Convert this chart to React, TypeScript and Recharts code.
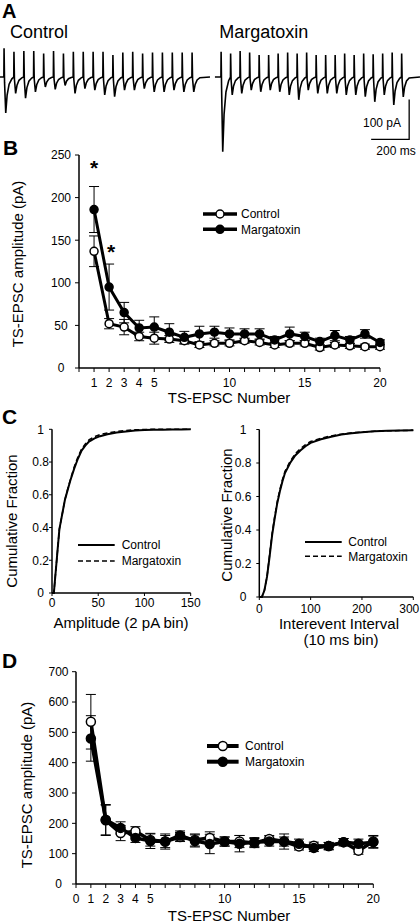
import React from 'react';
import { LineChart, Line, XAxis, YAxis, ErrorBar, Legend } from 'recharts';

const FONT = '"Liberation Sans", Arial, Helvetica, sans-serif';

// ---------- Panel A: example traces (pA relative to baseline, time in ms) ----------
const CTRL_STIM_MS = [20, 70, 120, 170, 220, 270, 320, 370, 420, 470, 520, 570, 620, 670, 720, 770, 820, 870, 920, 970];
const CTRL_ARTIFACT_PA = [72, 63, 65, 65, 59, 65, 59, 63, 63, 63, 63, 55, 61, 63, 59, 61, 61, 61, 61, 61];
const CTRL_TROUGH_PA = [-90, -41, -53, -37, -25, -31, -21, -41, -29, -33, -45, -49, -33, -33, -29, -37, -37, -33, -37, -37];
const MARG_STIM_MS = [58, 108, 158, 208, 258, 308, 358, 408, 458, 508, 558, 608, 658, 708, 758, 808, 858, 908, 958, 1008];
const MARG_ARTIFACT_PA = [63, 59, 65, 61, 55, 55, 59, 61, 59, 61, 55, 55, 55, 59, 55, 59, 57, 59, 61, 59];
const MARG_TROUGH_PA = [-187, -45, -41, -33, -37, -33, -37, -45, -57, -33, -41, -41, -41, -45, -45, -49, -62, -45, -70, -50];
// EPSC waveform shape (ms after stimulus, fraction of trough)
const EPSC_SHAPE_MS = [3, 9, 16, 26, 40];
const EPSC_SHAPE_FRAC = [0.15, 1, 0.5, 0.2, 0.05];
const SCALE_BAR_MS = [848, 1048, 1048];
const SCALE_BAR_PA = [-156, -156, -56];

// ---------- Panel B ----------
const B_NUM = [1, 2, 3, 4, 5, 6, 7, 8, 9, 10, 11, 12, 13, 14, 15, 16, 17, 18, 19, 20];
const B_CTRL = [137, 52, 48, 37, 35, 34, 32, 27, 29, 29, 32, 30, 27, 29, 29, 24, 27, 26, 25, 25];
const B_CTRL_SEM = [18, 6, 9, 5, 7, 4, 4, 3, 3, 3, 3, 3, 3, 3, 3, 3, 3, 3, 3, 3];
const B_MARG = [186, 95, 65, 47, 48, 42, 36, 40, 42, 40, 40, 40, 33, 40, 37, 31, 38, 33, 40, 30];
const B_MARG_SEM = [27, 27, 12, 9, 12, 10, 7, 9, 7, 7, 6, 6, 4, 8, 5, 4, 6, 4, 5, 3];
const B_X_TICKS = [0, 1, 2, 3, 4, 5, 6, 7, 8, 9, 10, 11, 12, 13, 14, 15, 16, 17, 18, 19, 20];
const B_X_LABELS = [1, 2, 3, 4, 5, 10, 15, 20];
const B_Y_TICKS = [0, 50, 100, 150, 200, 250];

// ---------- Panel C ----------
const AMP_PA = [0, 2, 4, 6, 8, 10, 12, 14, 16, 18, 20, 24, 28, 32, 36, 40, 46, 52, 60, 70, 80, 90, 100, 110, 120, 130, 140, 150];
const AMP_CTRL = [0, 0, 0.13, 0.26, 0.39, 0.45, 0.51, 0.57, 0.61, 0.65, 0.69, 0.76, 0.82, 0.87, 0.9, 0.925, 0.945, 0.958, 0.97, 0.98, 0.987, 0.992, 0.995, 0.997, 0.998, 0.999, 0.999, 1];
const AMP_MARG = [0, 0, 0.13, 0.26, 0.39, 0.45, 0.51, 0.57, 0.615, 0.655, 0.695, 0.77, 0.83, 0.88, 0.91, 0.935, 0.955, 0.968, 0.978, 0.987, 0.993, 0.997, 0.999, 1, 1, 1, 1, 1];
const IEI_MS = [0, 5, 10, 15, 20, 25, 30, 35, 40, 45, 50, 60, 70, 80, 90, 100, 120, 140, 160, 180, 200, 225, 250, 275, 300];
const IEI_CTRL = [0, 0, 0.04, 0.12, 0.24, 0.37, 0.47, 0.56, 0.63, 0.69, 0.74, 0.8, 0.845, 0.875, 0.9, 0.92, 0.942, 0.957, 0.97, 0.978, 0.984, 0.989, 0.992, 0.994, 0.995];
const IEI_MARG = [0, 0, 0.04, 0.12, 0.25, 0.38, 0.48, 0.57, 0.64, 0.7, 0.75, 0.81, 0.855, 0.885, 0.91, 0.928, 0.948, 0.962, 0.972, 0.98, 0.985, 0.99, 0.992, 0.994, 0.995];
const C_Y_TICKS = [0, 0.2, 0.4, 0.6, 0.8, 1];
const AMP_TICKS = [0, 50, 100, 150];
const IEI_TICKS = [0, 100, 200, 300];

// ---------- Panel D ----------
const D_CTRL = [535, 210, 168, 174, 145, 140, 155, 145, 152, 140, 140, 135, 148, 140, 124, 126, 125, 138, 110, 140];
const D_CTRL_SEM = [90, 50, 25, 15, 20, 20, 15, 20, 20, 15, 20, 15, 12, 15, 12, 12, 12, 12, 12, 20];
const D_MARG = [480, 212, 185, 152, 142, 140, 160, 142, 132, 140, 133, 138, 140, 140, 133, 119, 125, 138, 133, 138];
const D_MARG_SEM = [75, 50, 20, 15, 25, 25, 15, 20, 32, 15, 27, 15, 15, 25, 15, 12, 12, 12, 15, 20];
const D_X_LABELS = [0, 1, 2, 3, 4, 5, 10, 15, 20];
const D_Y_TICKS = [0, 100, 200, 300, 400, 500, 600, 700];

function buildTrace(stims: number[], tops: number[], troughs: number[], startMs: number, endMs: number) {
  const rows: { t: number; v: number }[] = [{ t: startMs, v: 0 }];
  stims.forEach((s, i) => {
    rows.push({ t: s - 0.5, v: 0 });
    rows.push({ t: s + 0.5, v: tops[i] });
    EPSC_SHAPE_MS.forEach((dt, k) => rows.push({ t: s + dt, v: troughs[i] * EPSC_SHAPE_FRAC[k] }));
  });
  rows.push({ t: endMs, v: 0 });
  return rows;
}

const ctrlTrace = buildTrace(CTRL_STIM_MS, CTRL_ARTIFACT_PA, CTRL_TROUGH_PA, 0, 1061);
const margTrace = buildTrace(MARG_STIM_MS, MARG_ARTIFACT_PA, MARG_TROUGH_PA, 26, 1105);
const scaleBar = SCALE_BAR_MS.map((t, i) => ({ t, v: SCALE_BAR_PA[i] }));

const bRows = B_NUM.map((n, i) => ({ n, ctrl: B_CTRL[i], ctrlErr: B_CTRL_SEM[i], marg: B_MARG[i], margErr: B_MARG_SEM[i] }));
const dRows = B_NUM.map((n, i) => ({ n, ctrl: D_CTRL[i], ctrlErr: D_CTRL_SEM[i], marg: D_MARG[i], margErr: D_MARG_SEM[i] }));
const ampRows = AMP_PA.map((a, i) => ({ a, ctrl: AMP_CTRL[i], marg: AMP_MARG[i] }));
const ieiRows = IEI_MS.map((a, i) => ({ a, ctrl: IEI_CTRL[i], marg: IEI_MARG[i] }));

function XTick(props: any) {
  const { x, y, payload, labels, oy, endAt } = props;
  if (labels && !labels.includes(payload.value)) return <g />;
  const atEnd = endAt !== undefined && payload.value === endAt;
  return (
    <text x={atEnd ? x + 6 : x} y={y + oy} textAnchor={atEnd ? 'end' : 'middle'} fontSize={12} fontFamily={FONT} fill="#000">
      {payload.value}
    </text>
  );
}

function YTick(props: any) {
  const { x, y, payload, ox } = props;
  return (
    <text x={x + ox} y={y + 4.3} textAnchor="middle" fontSize={12} fontFamily={FONT} fill="#000">
      {payload.value}
    </text>
  );
}

const AX = { stroke: '#000', strokeWidth: 1.5 };
const TL = { stroke: '#000', strokeWidth: 1 };

function MarkerLegend({ lineLen, lineW, r, gap, textX }: any) {
  const rows = [
    { label: 'Control', fill: '#fff' },
    { label: 'Margatoxin', fill: '#000' },
  ];
  return (
    <svg width={130} height={36} style={{ display: 'block' }}>
      {rows.map((row, i) => {
        const y = 8 + i * gap;
        return (
          <g key={row.label}>
            <line x1={3} x2={3 + lineLen} y1={y} y2={y} stroke="#000" strokeWidth={lineW} />
            <circle cx={3 + lineLen / 2} cy={y} r={r} fill={row.fill} stroke="#000" strokeWidth={1.5} />
            <text x={textX} y={y + 4.3} fontSize={12} fontFamily={FONT} fill="#000">
              {row.label}
            </text>
          </g>
        );
      })}
    </svg>
  );
}

function DashLegend({ lineLen, gap, textX }: any) {
  return (
    <svg width={130} height={36} style={{ display: 'block' }}>
      <line x1={3} x2={3 + lineLen} y1={8} y2={8} stroke="#000" strokeWidth={2} />
      <text x={textX} y={12.3} fontSize={12} fontFamily={FONT} fill="#000">Control</text>
      <line x1={3} x2={3 + lineLen} y1={8 + gap} y2={8 + gap} stroke="#000" strokeWidth={1.5} strokeDasharray="5 3" />
      <text x={textX} y={12.3 + gap} fontSize={12} fontFamily={FONT} fill="#000">Margatoxin</text>
    </svg>
  );
}

export default function App() {
  return (
    <div style={{ position: 'absolute', left: 0, top: 0, width: 420, height: 924, background: '#fff', overflow: 'hidden', fontFamily: FONT }}>
      {/* Panel A */}
      <div style={{ position: 'absolute', left: 0, top: 40 }}>
        <LineChart width={210} height={115} margin={{ top: 0, right: 0, bottom: 0, left: 0 }}>
          <XAxis type="number" dataKey="t" domain={[0, 1061]} hide allowDataOverflow />
          <YAxis type="number" domain={[-195, 92.5]} hide allowDataOverflow />
          <Line data={ctrlTrace} dataKey="v" stroke="#000" strokeWidth={1.6} dot={false} isAnimationActive={false} />
        </LineChart>
      </div>
      <div style={{ position: 'absolute', left: 210, top: 40 }}>
        <LineChart width={210} height={115} margin={{ top: 0, right: 0, bottom: 0, left: 0 }}>
          <XAxis type="number" dataKey="t" domain={[0, 1105]} hide allowDataOverflow />
          <YAxis type="number" domain={[-195, 92.5]} hide allowDataOverflow />
          <Line data={margTrace} dataKey="v" stroke="#000" strokeWidth={1.6} dot={false} isAnimationActive={false} />
          <Line data={scaleBar} dataKey="v" stroke="#000" strokeWidth={1.3} dot={false} isAnimationActive={false} />
        </LineChart>
      </div>

      {/* Panel B */}
      <div style={{ position: 'absolute', left: 0, top: 145 }}>
        <LineChart width={400} height={253} data={bRows} margin={{ top: 10, right: 20, bottom: 0, left: 0 }}>
          <XAxis type="number" dataKey="n" domain={[0, 20]} ticks={B_X_TICKS} interval={0} height={30} tickSize={4} tickMargin={2} axisLine={AX} tickLine={TL} tick={<XTick labels={B_X_LABELS} oy={13} />} />
          <YAxis type="number" domain={[0, 250]} ticks={B_Y_TICKS} interval={0} width={79} tickSize={4} tickMargin={2} axisLine={AX} tickLine={TL} tick={<YTick ox={-12} />} />
          <Line dataKey="ctrl" stroke="#000" strokeWidth={3} dot={{ r: 4, fill: '#fff', stroke: '#000', strokeWidth: 1.5 }} isAnimationActive={false}>
            <ErrorBar dataKey="ctrlErr" width={5} stroke="#000" strokeWidth={1} />
          </Line>
          <Line dataKey="marg" stroke="#000" strokeWidth={3} dot={{ r: 4, fill: '#000', stroke: '#000', strokeWidth: 1.5 }} isAnimationActive={false}>
            <ErrorBar dataKey="margErr" width={5} stroke="#000" strokeWidth={1} />
          </Line>
          <Legend layout="vertical" align="center" verticalAlign="middle" wrapperStyle={{ left: 200, top: 61, width: 130, height: 36 }} content={() => <MarkerLegend lineLen={34} lineW={3.5} r={4} gap={15.3} textX={41} />} />
        </LineChart>
      </div>

      {/* Panel C left */}
      <div style={{ position: 'absolute', left: 0, top: 419 }}>
        <LineChart width={205} height={204} data={ampRows} margin={{ top: 10.3, right: 14.3, bottom: 0, left: 0 }}>
          <XAxis type="number" dataKey="a" domain={[0, 150]} ticks={AMP_TICKS} interval={0} height={30} tickSize={3} tickMargin={2} axisLine={AX} tickLine={TL} tick={<XTick oy={8.5} />} />
          <YAxis type="number" domain={[0, 1]} ticks={C_Y_TICKS} interval={0} width={52} tickSize={3} tickMargin={2} axisLine={AX} tickLine={TL} tick={<YTick ox={-6.3} />} />
          <Line dataKey="ctrl" stroke="#000" strokeWidth={2} dot={false} isAnimationActive={false} />
          <Line dataKey="marg" stroke="#000" strokeWidth={1.5} strokeDasharray="5 3" dot={false} isAnimationActive={false} />
          <Legend layout="vertical" align="center" verticalAlign="middle" wrapperStyle={{ left: 75, top: 118, width: 130, height: 36 }} content={() => <DashLegend lineLen={36.7} gap={16} textX={46.7} />} />
        </LineChart>
      </div>

      {/* Panel C right */}
      <div style={{ position: 'absolute', left: 205, top: 419 }}>
        <LineChart width={215} height={208} data={ieiRows} margin={{ top: 10.5, right: 6.7, bottom: 0, left: 0 }}>
          <XAxis type="number" dataKey="a" domain={[0, 300]} ticks={IEI_TICKS} interval={0} height={30} tickSize={3} tickMargin={2} axisLine={AX} tickLine={TL} tick={<XTick oy={11} endAt={300} />} />
          <YAxis type="number" domain={[0, 1]} ticks={C_Y_TICKS} interval={0} width={54.3} tickSize={3} tickMargin={2} axisLine={AX} tickLine={TL} tick={<YTick ox={-11.3} />} />
          <Line dataKey="ctrl" stroke="#000" strokeWidth={2} dot={false} isAnimationActive={false} />
          <Line dataKey="marg" stroke="#000" strokeWidth={1.5} strokeDasharray="5 3" dot={false} isAnimationActive={false} />
          <Legend layout="vertical" align="center" verticalAlign="middle" wrapperStyle={{ left: 97, top: 114.7, width: 130, height: 36 }} content={() => <DashLegend lineLen={36.7} gap={14.3} textX={46.3} />} />
        </LineChart>
      </div>

      {/* Panel D */}
      <div style={{ position: 'absolute', left: 0, top: 661 }}>
        <LineChart width={400} height={253} data={dRows} margin={{ top: 10.7, right: 26.7, bottom: 0, left: 0 }}>
          <XAxis type="number" dataKey="n" domain={[0, 20]} ticks={B_X_TICKS} interval={0} height={30} tickSize={4} tickMargin={2} axisLine={AX} tickLine={TL} tick={<XTick labels={D_X_LABELS} oy={13} />} />
          <YAxis type="number" domain={[0, 700]} ticks={D_Y_TICKS} interval={0} width={76} tickSize={4} tickMargin={2} axisLine={AX} tickLine={TL} tick={<YTick ox={-11.5} />} />
          <Line dataKey="ctrl" stroke="#000" strokeWidth={3.5} dot={{ r: 4.5, fill: '#fff', stroke: '#000', strokeWidth: 1.5 }} isAnimationActive={false}>
            <ErrorBar dataKey="ctrlErr" width={5} stroke="#000" strokeWidth={1} />
          </Line>
          <Line dataKey="marg" stroke="#000" strokeWidth={3.5} dot={{ r: 4.5, fill: '#000', stroke: '#000', strokeWidth: 1.5 }} isAnimationActive={false}>
            <ErrorBar dataKey="margErr" width={5} stroke="#000" strokeWidth={1} />
          </Line>
          <Legend layout="vertical" align="center" verticalAlign="middle" wrapperStyle={{ left: 204, top: 77, width: 130, height: 36 }} content={() => <MarkerLegend lineLen={31.6} lineW={4} r={4.5} gap={15.7} textX={41} />} />
        </LineChart>
      </div>

      {/* Static text */}
      <svg width={420} height={924} style={{ position: 'absolute', left: 0, top: 0, pointerEvents: 'none' }} fontFamily={FONT} fill="#000">
        <text x={2} y={17.5} fontSize={20} fontWeight="bold">A</text>
        <text x={10} y={37.7} fontSize={18}>Control</text>
        <text x={219.3} y={37.7} fontSize={18}>Margatoxin</text>
        <text x={382} y={127} fontSize={12} textAnchor="middle">100 pA</text>
        <text x={396} y={155} fontSize={12} textAnchor="middle">200 ms</text>

        <text x={3} y={154.5} fontSize={21} fontWeight="bold">B</text>
        <text x={94} y={175} fontSize={21} fontWeight="bold" textAnchor="middle">*</text>
        <text x={111} y={258.5} fontSize={21} fontWeight="bold" textAnchor="middle">*</text>
        <text transform="translate(22.8,264) rotate(-90)" fontSize={15} textAnchor="middle">TS-EPSC amplitude (pA)</text>
        <text x={229} y={403.4} fontSize={15} textAnchor="middle">TS-EPSC Number</text>

        <text x={2} y={424} fontSize={21} fontWeight="bold">C</text>
        <text transform="translate(17,521) rotate(-90)" fontSize={15} textAnchor="middle">Cumulative Fraction</text>
        <text transform="translate(232,515) rotate(-90)" fontSize={15} textAnchor="middle">Cumulative Fraction</text>
        <text x={121} y={627.5} fontSize={15} textAnchor="middle">Amplitude (2 pA bin)</text>
        <text x={339} y={628.5} fontSize={15} textAnchor="middle">Interevent Interval</text>
        <text x={341} y={645} fontSize={15} textAnchor="middle">(10 ms bin)</text>

        <text x={2} y={668} fontSize={21} fontWeight="bold">D</text>
        <text transform="translate(31.8,785) rotate(-90)" fontSize={15} textAnchor="middle">TS-EPSC amplitude (pA)</text>
        <text x={229} y={920.5} fontSize={15} textAnchor="middle">TS-EPSC Number</text>
      </svg>
    </div>
  );
}
